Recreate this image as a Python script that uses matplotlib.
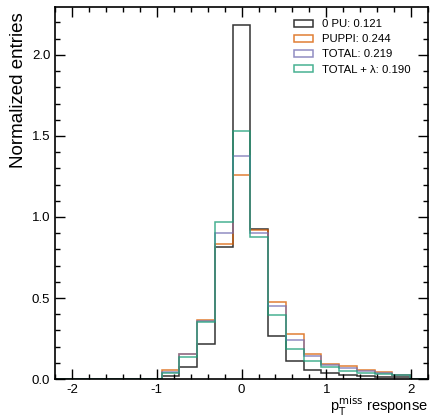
import numpy as np
import matplotlib
matplotlib.use("Agg")
import matplotlib.pyplot as plt
from matplotlib.ticker import MultipleLocator
from matplotlib.patches import Patch

plt.rcParams['font.family'] = ['Liberation Sans', 'DejaVu Sans']
plt.rcParams['axes.unicode_minus'] = False

# 21 bins over [-2.2, 2.2]
bin_edges = np.linspace(-2.2, 2.2, 22)

# normalized bin contents
h_0pu = [0, 0, 0, 0, 0, 0, 0.020, 0.072, 0.215, 0.815, 2.186, 0.928,
         0.265, 0.111, 0.055, 0.035, 0.026, 0.018, 0.014, 0.015, 0]
h_puppi = [0, 0, 0, 0, 0, 0, 0.055, 0.152, 0.367, 0.831, 1.262, 0.922,
           0.478, 0.277, 0.154, 0.092, 0.080, 0.055, 0.041, 0.025, 0]
h_total = [0, 0, 0, 0, 0, 0, 0.045, 0.152, 0.359, 0.901, 1.375, 0.901,
           0.448, 0.240, 0.140, 0.084, 0.068, 0.047, 0.037, 0.024, 0]
h_total_lambda = [0, 0, 0, 0, 0, 0, 0.040, 0.136, 0.351, 0.967, 1.529, 0.876,
                  0.398, 0.185, 0.110, 0.072, 0.051, 0.035, 0.029, 0.022, 0]

labels = ["0 PU: 0.121", "PUPPI: 0.244", "TOTAL: 0.219", "TOTAL + \u03bb: 0.190"]
colors = ["black", "#d95f02", "#7570b3", "#1b9e77"]

fig = plt.figure(figsize=(4.31, 4.17), dpi=100)
ax = fig.add_axes([0.128, 0.091, 0.865, 0.892])

handles = []
for h, lab, c in zip([h_0pu, h_puppi, h_total, h_total_lambda], labels, colors):
    ax.stairs(h, bin_edges, color=c, linewidth=1.1, alpha=0.8)
    handles.append(Patch(facecolor='none', edgecolor=c, linewidth=1.1, alpha=0.8, label=lab))

ax.set_xlim(-2.2, 2.2)
ax.set_ylim(0, 2.295)

ax.xaxis.set_major_locator(MultipleLocator(1))
ax.xaxis.set_minor_locator(MultipleLocator(0.2))
ax.yaxis.set_major_locator(MultipleLocator(0.5))
ax.yaxis.set_minor_locator(MultipleLocator(0.1))
ax.yaxis.set_major_formatter(plt.FormatStrFormatter('%.1f'))
ax.tick_params(which='both', direction='in', top=True, right=True, labelsize=9.5)
ax.tick_params(which='major', length=7, width=1)
ax.tick_params(which='minor', length=3.5, width=1)
for s in ax.spines.values():
    s.set_linewidth(1.2)

ax.set_xlabel(r"p$_\mathrm{T}^\mathrm{miss}$ response", fontsize=10.5, ha='right', va='baseline')
ax.xaxis.set_label_coords(1.0, -0.088)
ax.set_ylabel("Normalized entries", fontsize=13.5, ha='right', va='center')
ax.yaxis.set_label_coords(-0.099, 0.985)

ax.legend(handles=handles, loc='upper right', fontsize=8.2, frameon=False,
          handlelength=1.6, handleheight=0.55, handletextpad=0.8,
          labelspacing=0.45, bbox_to_anchor=(0.98, 0.995))

fig.savefig("out.png", dpi=100)
